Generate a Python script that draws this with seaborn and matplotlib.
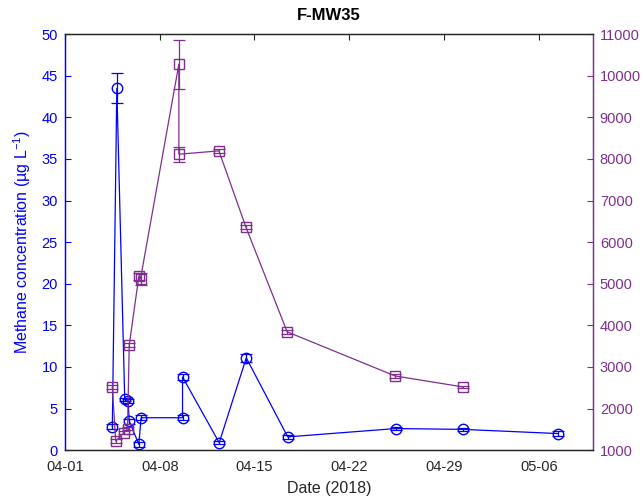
import pandas as pd
import matplotlib
matplotlib.use("Agg")
import matplotlib.pyplot as plt
import matplotlib.dates as mdates
import seaborn as sns

# Methane (left axis, µg/L) sampling times, means and error half-widths
methane_time = [
    "2018-04-04 12:00", "2018-04-04 20:00", "2018-04-05 10:00", "2018-04-05 16:00",
    "2018-04-05 18:00", "2018-04-06 11:00", "2018-04-06 15:00", "2018-04-09 16:30",
    "2018-04-09 16:30", "2018-04-12 09:30", "2018-04-14 09:30", "2018-04-17 11:00",
    "2018-04-25 10:30", "2018-04-30 10:00", "2018-05-07 09:30",
]
methane = [2.8, 43.5, 6.1, 5.9, 3.5, 0.7, 3.9, 3.9, 8.8, 0.9, 11.1, 1.6, 2.6, 2.5, 2.0]
methane_err = [0.3, 1.8, 0.2, 0.2, 0.3, 0.3, 0.3, 0.3, 0.4, 0.2, 0.5, 0.2, 0.2, 0.2, 0.3]

# Right-axis series sampling times, means and error half-widths
right_time = [
    "2018-04-04 12:00", "2018-04-04 18:00", "2018-04-05 09:00", "2018-04-05 15:00",
    "2018-04-05 18:00", "2018-04-06 11:00", "2018-04-06 14:00", "2018-04-09 10:00",
    "2018-04-09 10:00", "2018-04-12 09:00", "2018-04-14 08:40", "2018-04-17 10:00",
    "2018-04-25 09:20", "2018-04-30 10:00",
]
right_vals = [2520, 1220, 1425, 1520, 3525, 5180, 5120, 10280, 8115, 8195, 6370, 3845, 2785, 2520]
right_err = [40, 40, 40, 40, 50, 80, 150, 590, 185, 50, 50, 40, 40, 30]

x_ticks = ["2018-04-01", "2018-04-08", "2018-04-15", "2018-04-22", "2018-04-29", "2018-05-06"]
x_limits = ["2018-04-01", "2018-05-10"]
left_ticks = list(range(0, 51, 5))
right_ticks = list(range(1000, 11001, 1000))

BLUE = "#0000FF"
PURPLE = "#7E2F8E"
GREY = "#262626"

sns.set_theme(style="white")
plt.rcParams["font.family"] = ["Liberation Sans", "DejaVu Sans"]
plt.rcParams["mathtext.fontset"] = "custom"
plt.rcParams["mathtext.rm"] = "Liberation Sans"

mdf = pd.DataFrame({"time": pd.to_datetime(methane_time), "value": methane, "err": methane_err})
rdf = pd.DataFrame({"time": pd.to_datetime(right_time), "value": right_vals, "err": right_err})

fig = plt.figure(figsize=(6.43, 5.03), dpi=100)
ax = fig.add_axes([0.101, 0.105, 0.821, 0.827])
ax2 = ax.twinx()

# Methane on the left axis
ax.errorbar(mdf["time"], mdf["value"], yerr=mdf["err"], fmt="none",
            ecolor=BLUE, elinewidth=0.9, capsize=4, capthick=0.9, zorder=2)
sns.lineplot(data=mdf, x="time", y="value", estimator=None, sort=False, ax=ax,
             color=BLUE, linewidth=0.9, marker="o", markersize=7.5,
             markerfacecolor="none", markeredgecolor=BLUE, markeredgewidth=1.0,
             zorder=3)

# Second series on the right axis
ax2.errorbar(rdf["time"], rdf["value"], yerr=rdf["err"], fmt="none",
             ecolor=PURPLE, elinewidth=0.9, capsize=4, capthick=0.9, zorder=2)
sns.lineplot(data=rdf, x="time", y="value", estimator=None, sort=False, ax=ax2,
             color=PURPLE, linewidth=0.9, marker="s", markersize=6.5,
             markerfacecolor="none", markeredgecolor=PURPLE, markeredgewidth=1.0,
             zorder=3)

ax.set_xlim(pd.to_datetime(x_limits[0]), pd.to_datetime(x_limits[1]))
ax.set_xticks(pd.to_datetime(x_ticks))
ax.xaxis.set_major_formatter(mdates.DateFormatter("%m-%d"))

ax.set_ylim(0, 50)
ax.set_yticks(left_ticks)
ax2.set_ylim(1000, 11000)
ax2.set_yticks(right_ticks)

ax.set_xlabel("Date (2018)", fontsize=11.5, color=GREY, labelpad=5)
ax.set_ylabel("Methane concentration (µg L$^{-1}$)", fontsize=11.5, color=BLUE, labelpad=6)
ax2.set_ylabel("")
ax.set_title("F-MW35", fontsize=12, fontweight="bold", color="black", pad=10)

ax.tick_params(axis="x", direction="in", length=4, width=0.8, colors=GREY,
               labelsize=10.5, labelcolor=GREY, top=True, pad=7)
ax.tick_params(axis="y", direction="in", length=4, width=0.8, colors=BLUE,
               labelsize=10.5, labelcolor=BLUE, right=False, pad=5)
ax2.tick_params(axis="y", direction="in", length=4, width=0.8, colors=PURPLE,
                labelsize=10.5, labelcolor=PURPLE, left=False, pad=5)

for a in (ax, ax2):
    a.spines["top"].set_color(GREY)
    a.spines["bottom"].set_color(GREY)
    a.spines["left"].set_color(BLUE)
    a.spines["right"].set_color(PURPLE)
    for s in a.spines.values():
        s.set_linewidth(0.9)
        s.set_visible(True)
ax.grid(False)
ax2.grid(False)

fig.savefig("out.png", dpi=100, facecolor="white")
